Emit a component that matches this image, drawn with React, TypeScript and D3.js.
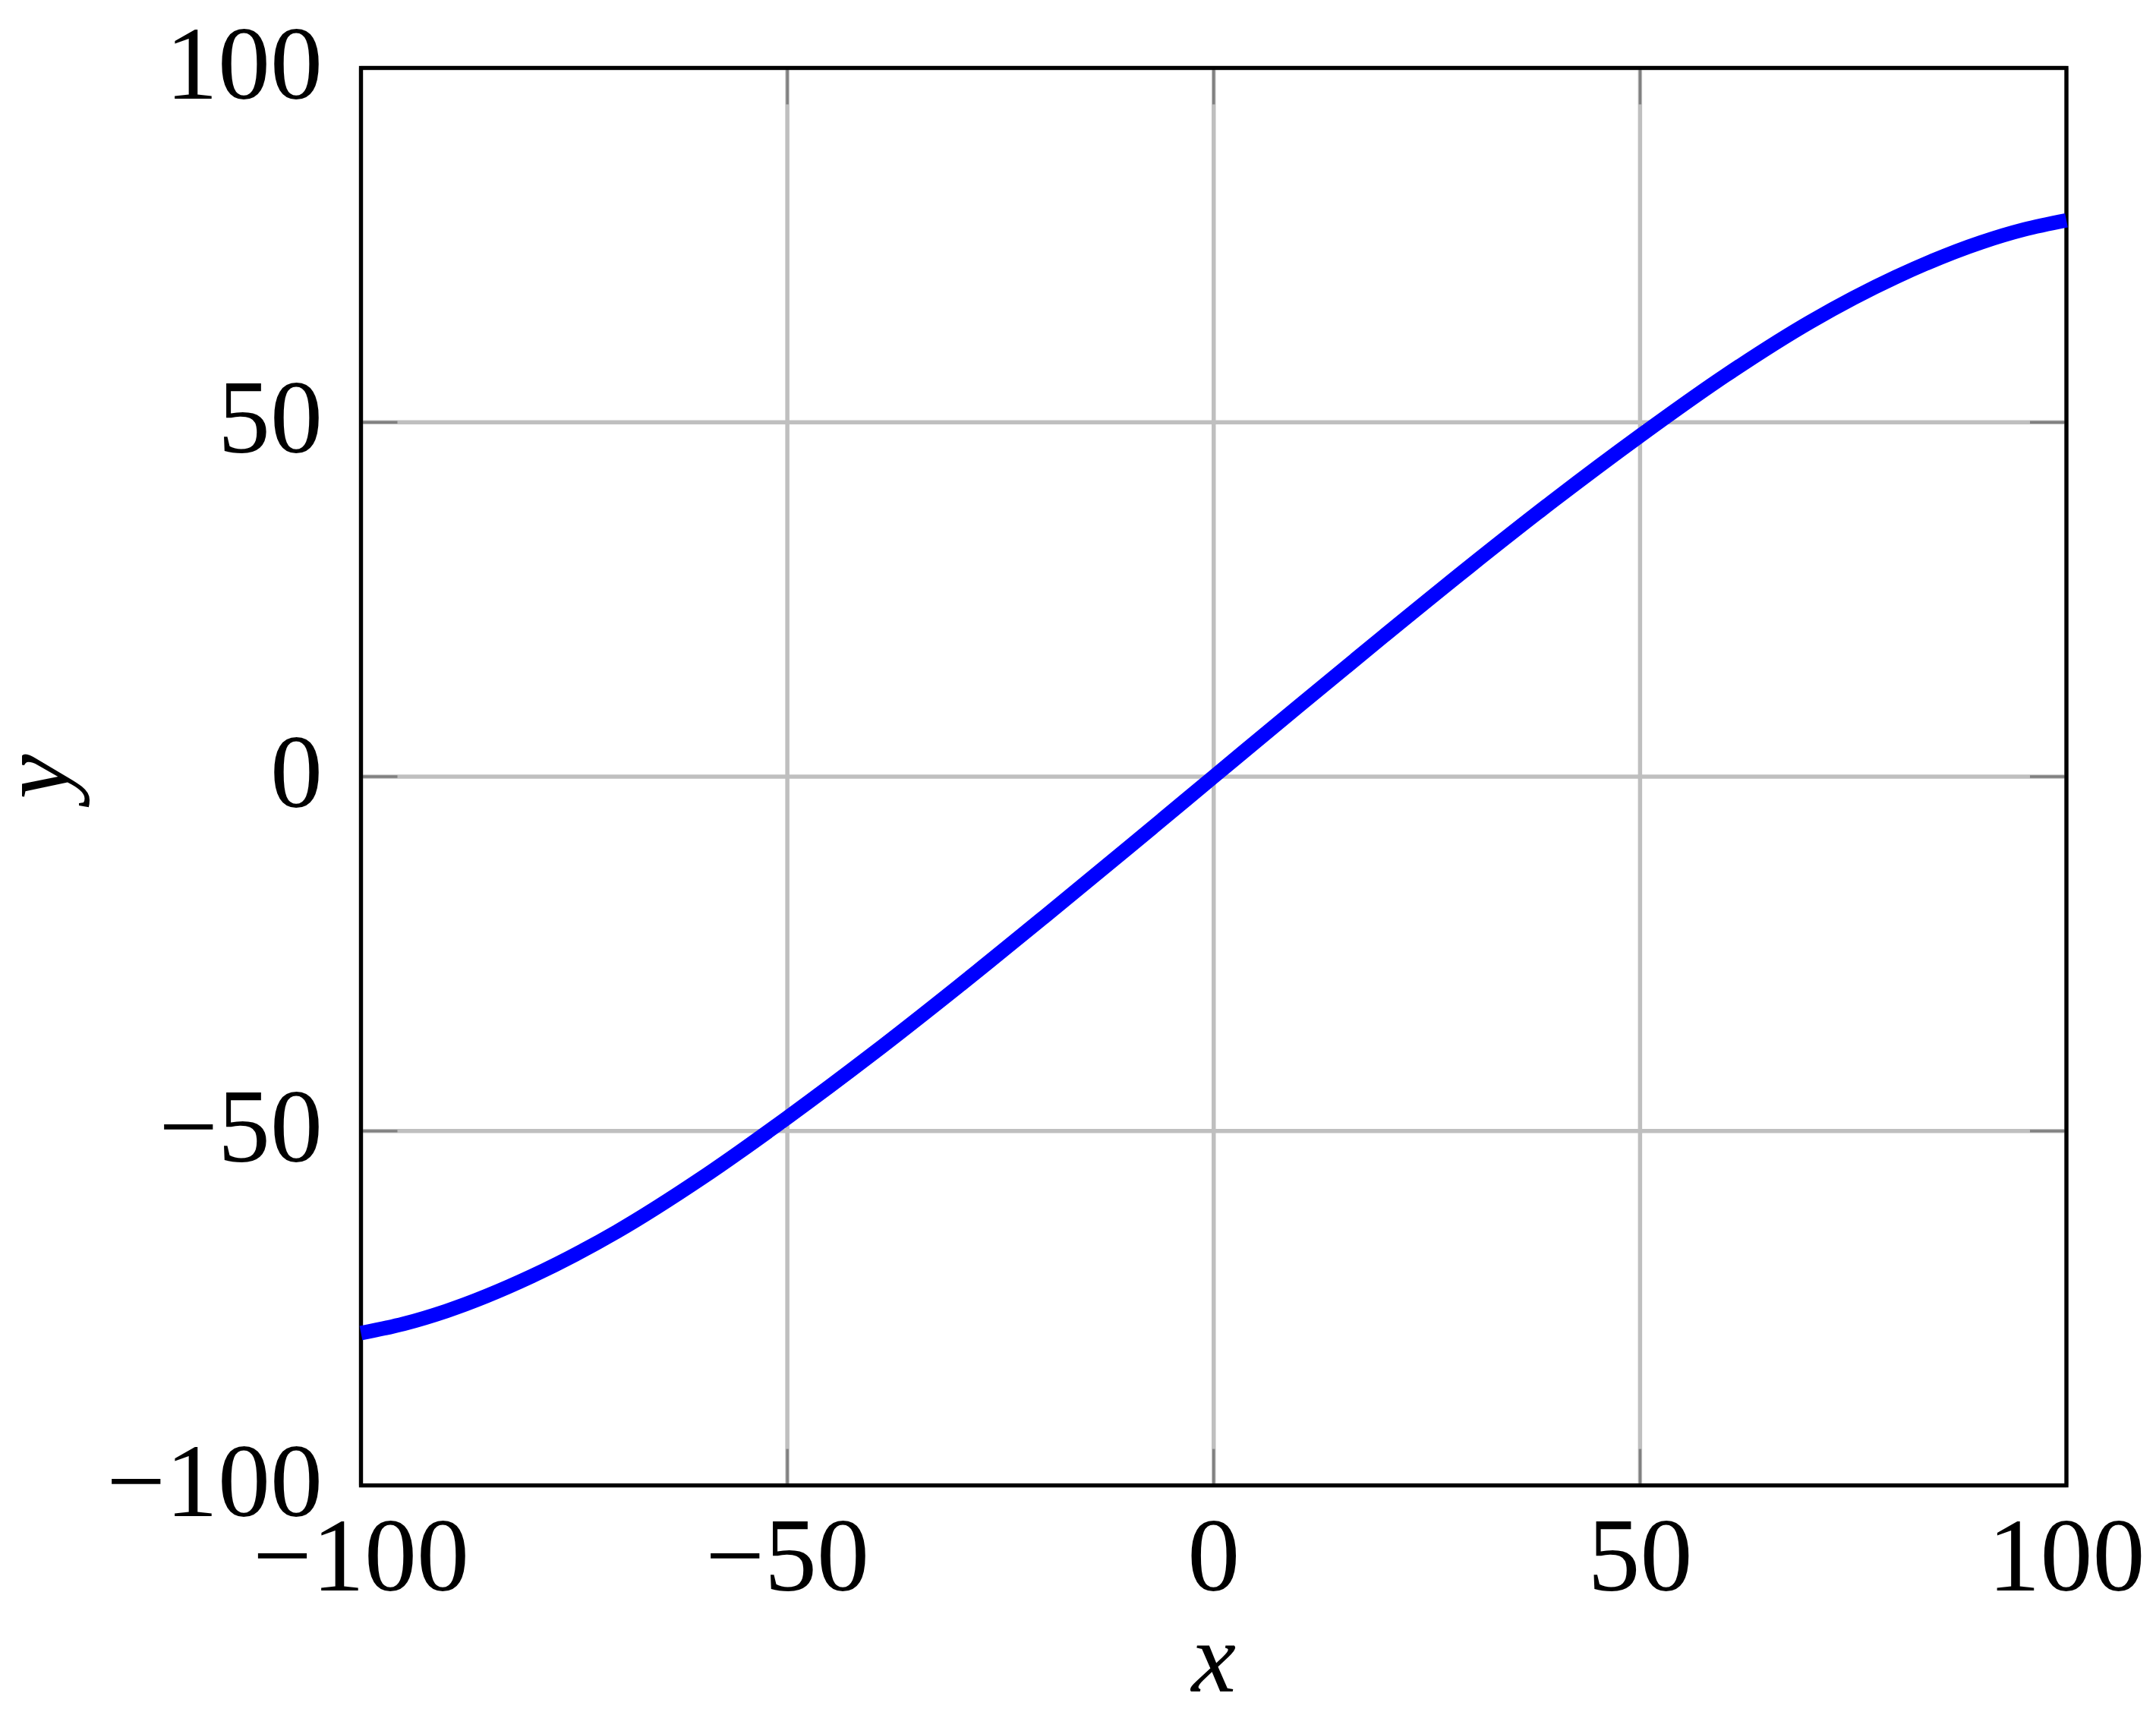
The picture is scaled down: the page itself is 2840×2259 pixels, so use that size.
import React from "react";
import * as d3 from "d3";

const xValues = [-100, -95, -90, -80, -70, -60, -50, -40, -30, -20, -10, 0, 10, 20, 30, 40, 50, 60, 70, 80, 90, 95, 100];
const yValues = [-78.5, -77.2, -75.4, -70.5, -64.2, -56.6, -48.1, -39.1, -29.65, -19.9, -10.0, 0, 10.0, 19.9, 29.65, 39.1, 48.1, 56.6, 64.2, 70.5, 75.4, 77.2, 78.5];
const xTicks = [-100, -50, 0, 50, 100];
const yTicks = [-100, -50, 0, 50, 100];
const xLabel = "x";
const yLabel = "y";

const W = 2840;
const H = 2259;
const left = 475.5;
const right = 2722;
const top = 89.5;
const bottom = 1956.6;
const FONT = "'Liberation Serif', 'Times New Roman', serif";

const fmt = (v: number) => (v < 0 ? "\u2212" + Math.abs(v) : String(v));

export default function App() {
  const x = d3.scaleLinear().domain([-100, 100]).range([left, right]);
  const y = d3.scaleLinear().domain([-100, 100]).range([bottom, top]);
  const pts: [number, number][] = xValues.map((v, i) => [v, yValues[i]]);
  const line = d3
    .line<[number, number]>()
    .x((d) => x(d[0]))
    .y((d) => y(d[1]))
    .curve(d3.curveMonotoneX);
  const tickLen = 48;
  const gridColor = "#bfbfbf";
  const tickColor = "#808080";

  return (
    <svg
      width={W}
      height={H}
      viewBox={`0 0 ${W} ${H}`}
      style={{ position: "absolute", left: 0, top: 0, display: "block", background: "#fff" }}
    >
      <rect x={0} y={0} width={W} height={H} fill="#fff" />
      {/* grid */}
      {xTicks.map((t) => (
        <line key={"gx" + t} x1={x(t)} x2={x(t)} y1={top} y2={bottom} stroke={gridColor} strokeWidth={5.5} />
      ))}
      {yTicks.map((t) => (
        <line key={"gy" + t} x1={left} x2={right} y1={y(t)} y2={y(t)} stroke={gridColor} strokeWidth={5.5} />
      ))}
      {/* ticks */}
      {xTicks.map((t) => (
        <g key={"tx" + t}>
          <line x1={x(t)} x2={x(t)} y1={bottom} y2={bottom - tickLen} stroke={tickColor} strokeWidth={3.4} />
          <line x1={x(t)} x2={x(t)} y1={top} y2={top + tickLen} stroke={tickColor} strokeWidth={3.4} />
        </g>
      ))}
      {yTicks.map((t) => (
        <g key={"ty" + t}>
          <line x1={left} x2={left + tickLen} y1={y(t)} y2={y(t)} stroke={tickColor} strokeWidth={3.4} />
          <line x1={right} x2={right - tickLen} y1={y(t)} y2={y(t)} stroke={tickColor} strokeWidth={3.4} />
        </g>
      ))}
      {/* frame */}
      <rect x={left} y={top} width={right - left} height={bottom - top} fill="none" stroke="#000" strokeWidth={5.3} />
      {/* curve */}
      <path d={line(pts) || ""} fill="none" stroke="#0000ff" strokeWidth={19} strokeLinecap="butt" strokeLinejoin="round" />
      {/* tick labels */}
      {xTicks.map((t) => (
        <text key={"lx" + t} x={x(t)} y={2095} textAnchor="middle" fontFamily={FONT} fontSize={138} fill="#000">
          {fmt(t)}
        </text>
      ))}
      {yTicks.map((t) => (
        <text key={"ly" + t} x={425} y={y(t) + 40} textAnchor="end" fontFamily={FONT} fontSize={138} fill="#000">
          {fmt(t)}
        </text>
      ))}
      {/* axis labels */}
      <text x={x(0)} y={2228} textAnchor="middle" fontFamily={FONT} fontStyle="italic" fontSize={132} fill="#000">
        {xLabel}
      </text>
      <text
        transform={`translate(90, ${y(0)}) rotate(-90)`}
        textAnchor="middle"
        fontFamily={FONT}
        fontStyle="italic"
        fontSize={132}
        fill="#000"
      >
        {yLabel}
      </text>
    </svg>
  );
}
